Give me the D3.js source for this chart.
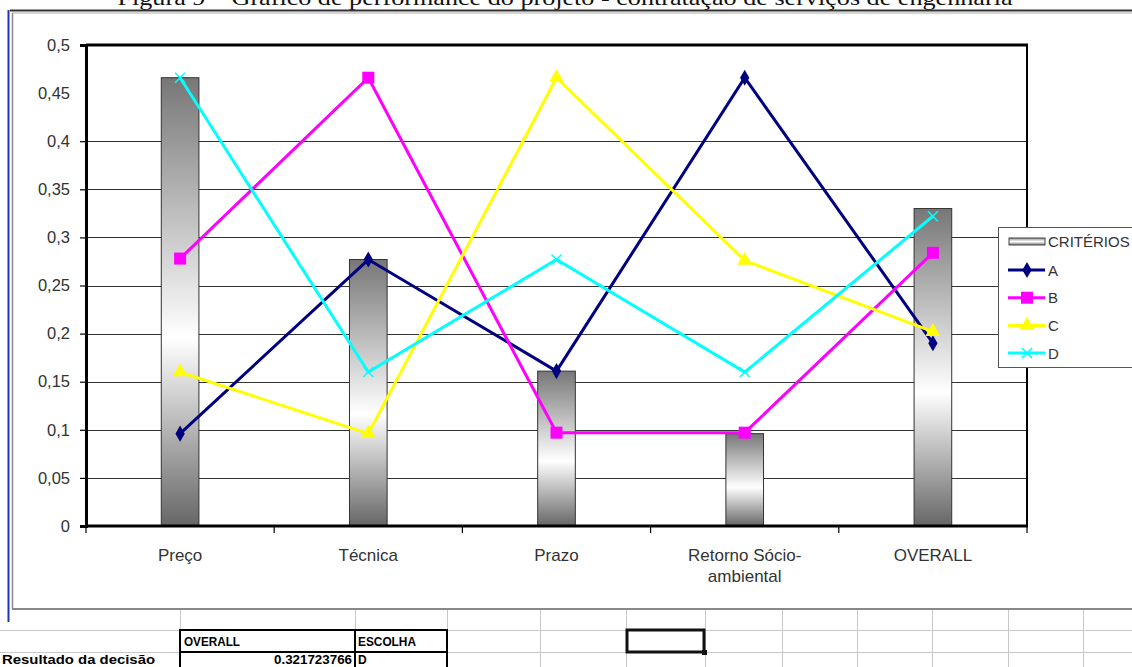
<!DOCTYPE html>
<html><head><meta charset="utf-8">
<script src="https://cdn.jsdelivr.net/npm/d3@7"></script>
<style>html,body{margin:0;padding:0;background:#fff;overflow:hidden}</style>
</head><body>
<script>
const categories = ["Preço","Técnica","Prazo","Retorno Sócio-ambiental","OVERALL"];
const criterios = [0.466, 0.277, 0.161, 0.096, 0.330];
const seriesA = [0.096, 0.277, 0.161, 0.466, 0.190];
const seriesB = [0.278, 0.466, 0.097, 0.097, 0.284];
const seriesC = [0.160, 0.096, 0.466, 0.276, 0.202];
const seriesD = [0.466, 0.160, 0.277, 0.160, 0.322];
const seriesNames = ["A","B","C","D"];
const yTicks = [0,0.05,0.1,0.15,0.2,0.25,0.3,0.35,0.4,0.45,0.5];
const gridTicks = [0.05,0.1,0.15,0.2,0.25,0.3,0.35,0.4];
const legendTitle = "CRITÉRIOS";
const caption = "Figura 9 – Gráfico de performance do projeto - contratação de serviços de engenharia";
const tableHeaders = ["OVERALL","ESCOLHA"];
const tableRowLabel = "Resultado da decisão";
const tableOverall = "0.321723766";
const tableChoice = "D";

const W = 1132, H = 667;
const svg = d3.select("body").append("svg").attr("width",W).attr("height",H)
  .style("font-family","'Liberation Sans', Arial, sans-serif");

const defs = svg.append("defs");
const grad = defs.append("linearGradient").attr("id","barGrad").attr("x1",0).attr("y1",0).attr("x2",0).attr("y2",1);
grad.append("stop").attr("offset","0%").attr("stop-color","#777");
grad.append("stop").attr("offset","58%").attr("stop-color","#fff");
grad.append("stop").attr("offset","100%").attr("stop-color","#666");
const lgGrad = defs.append("linearGradient").attr("id","lgGrad").attr("x1",0).attr("y1",0).attr("x2",0).attr("y2",1);
lgGrad.append("stop").attr("offset","0%").attr("stop-color","#888");
lgGrad.append("stop").attr("offset","50%").attr("stop-color","#fff");
lgGrad.append("stop").attr("offset","100%").attr("stop-color","#777");

// caption (clipped at top, as in the reference)
svg.append("text").attr("x",565).attr("y",5).attr("text-anchor","middle")
  .attr("font-family","'Liberation Serif', 'Times New Roman', serif").attr("font-size",21)
  .attr("textLength",895).attr("lengthAdjust","spacingAndGlyphs")
  .attr("fill","#111").text(caption);

// page / frame lines
svg.append("line").attr("x1",10).attr("x2",W).attr("y1",10.5).attr("y2",10.5).attr("stroke","#333").attr("stroke-width",2);
svg.append("line").attr("x1",12).attr("x2",W).attr("y1",13).attr("y2",13).attr("stroke","#aaa").attr("stroke-width",1);
svg.append("line").attr("x1",8.5).attr("x2",8.5).attr("y1",10).attr("y2",622).attr("stroke","#2233bb").attr("stroke-width",2);
svg.append("line").attr("x1",12.5).attr("x2",12.5).attr("y1",13).attr("y2",609).attr("stroke","#888").attr("stroke-width",1.5);
svg.append("line").attr("x1",12).attr("x2",W).attr("y1",609).attr("y2",609).attr("stroke","#888").attr("stroke-width",2);

// spreadsheet grid
const colLines = [180,355,447,540,626,705,782,857,932,1008,1083];
svg.append("g").selectAll("line").data(colLines).join("line")
  .attr("x1",d=>d+0.5).attr("x2",d=>d+0.5).attr("y1",610).attr("y2",H).attr("stroke","#c8c8c8");
svg.append("g").selectAll("line").data([630,652]).join("line")
  .attr("x1",0).attr("x2",W).attr("y1",d=>d+0.5).attr("y2",d=>d+0.5).attr("stroke","#c8c8c8");
// table borders
const tb = svg.append("g").attr("stroke","#000").attr("stroke-width",2).attr("fill","none");
tb.append("rect").attr("x",180).attr("y",630).attr("width",267).attr("height",45);
tb.append("line").attr("x1",355).attr("x2",355).attr("y1",630).attr("y2",H);
tb.append("line").attr("x1",180).attr("x2",447).attr("y1",652).attr("y2",652);
// selected cell
svg.append("rect").attr("x",627).attr("y",630).attr("width",77).attr("height",22).attr("fill","none").attr("stroke","#111").attr("stroke-width",3);
svg.append("rect").attr("x",702).attr("y",650).attr("width",5).attr("height",5).attr("fill","#111");
const tt = svg.append("g").attr("font-size",12).attr("font-weight","bold").attr("fill","#000");
tt.append("text").attr("x",184).attr("y",646).attr("textLength",56).attr("lengthAdjust","spacingAndGlyphs").text(tableHeaders[0]);
tt.append("text").attr("x",358).attr("y",646).attr("textLength",58).attr("lengthAdjust","spacingAndGlyphs").text(tableHeaders[1]);
tt.append("text").attr("x",2).attr("y",664).attr("textLength",153).attr("lengthAdjust","spacingAndGlyphs").text(tableRowLabel);
tt.append("text").attr("x",352).attr("y",664).attr("text-anchor","end").attr("textLength",78).attr("lengthAdjust","spacingAndGlyphs").text(tableOverall);
tt.append("text").attr("x",358).attr("y",664).text(tableChoice);

// scales
const x0 = 86, x1 = 1027, yTop = 45, yBot = 526;
const x = d3.scalePoint().domain(categories).range([x0,x1]).padding(0.5);
const xb = d3.scaleBand().domain(categories).range([x0,x1]).paddingInner(0.8).paddingOuter(0.4);
const xEdges = d3.scaleBand().domain(categories).range([x0,x1]).padding(0);
const y = d3.scaleLinear().domain([0,0.5]).range([yBot,yTop]);

// gridlines
svg.append("g").selectAll("line").data(gridTicks).join("line")
  .attr("x1",x0).attr("x2",x1).attr("y1",d=>Math.round(y(d))+0.5).attr("y2",d=>Math.round(y(d))+0.5)
  .attr("stroke","#333").attr("stroke-width",1.2);

// bars
svg.append("g").selectAll("rect").data(categories).join("rect")
  .attr("x",d=>xb(d)).attr("width",xb.bandwidth())
  .attr("y",(d,i)=>y(criterios[i])).attr("height",(d,i)=>yBot-y(criterios[i]))
  .attr("fill","url(#barGrad)").attr("stroke","#333").attr("stroke-width",1);

// plot border
svg.append("line").attr("x1",x0).attr("x2",x1+1).attr("y1",yTop).attr("y2",yTop).attr("stroke","#000").attr("stroke-width",3);
svg.append("line").attr("x1",x1).attr("x2",x1).attr("y1",yTop).attr("y2",yBot).attr("stroke","#000").attr("stroke-width",2);

// y axis
const yAxis = d3.axisLeft(y).tickValues(yTicks).tickSize(6).tickPadding(10)
  .tickFormat(d=>String(d).replace(".",","));
const gy = svg.append("g").attr("transform",`translate(${x0},0)`).call(yAxis);
gy.select(".domain").attr("stroke","#000").attr("stroke-width",3);
gy.selectAll(".tick line").attr("stroke","#000").attr("stroke-width",1.2);
gy.selectAll(".tick").filter(d=>d===0.45).select("line").remove();
gy.selectAll("text").attr("font-size",16.5).attr("fill","#333").attr("font-family","'Liberation Sans', Arial, sans-serif");

// x axis
const gx = svg.append("g").attr("transform",`translate(0,${yBot})`);
gx.append("line").attr("x1",x0-1).attr("x2",x1+1).attr("y1",0).attr("y2",0).attr("stroke","#000").attr("stroke-width",3);
gx.selectAll("line.tk").data(categories.concat(["__end"])).join("line").attr("class","tk")
  .attr("x1",(d,i)=> i<categories.length ? xEdges(d) : x1).attr("x2",(d,i)=> i<categories.length ? xEdges(d) : x1)
  .attr("y1",0).attr("y2",7).attr("stroke","#000").attr("stroke-width",1.2);
const lbl = gx.selectAll("text.cat").data(categories).join("text").attr("class","cat")
  .attr("x",d=>x(d)).attr("text-anchor","middle").attr("font-size",17).attr("fill","#333");
lbl.each(function(d){
  const t = d3.select(this);
  const parts = d.indexOf("Sócio-")>=0 ? [d.slice(0, d.indexOf("Sócio-")+6), d.slice(d.indexOf("Sócio-")+6)] : [d];
  parts.forEach((p,k)=> t.append("tspan").attr("x",x(d)).attr("y",35+k*21).text(p));
});

// series
const series = [
  {name:"A", values:seriesA, color:"#000080", sym:"diamond"},
  {name:"B", values:seriesB, color:"#ff00ff", sym:"square"},
  {name:"C", values:seriesC, color:"#ffff00", sym:"triangle"},
  {name:"D", values:seriesD, color:"#00ffff", sym:"x"}
];
function marker(g, sym, color, cx, cy){
  if(sym==="diamond"){
    g.append("path").attr("d",d3.symbol(d3.symbolDiamond,75)()).attr("transform",`translate(${cx},${cy})`).attr("fill",color);
  } else if(sym==="square"){
    g.append("rect").attr("x",cx-6).attr("y",cy-6).attr("width",12).attr("height",12).attr("fill",color);
  } else if(sym==="triangle"){
    g.append("path").attr("d",d3.symbol(d3.symbolTriangle,95)()).attr("transform",`translate(${cx},${cy})`).attr("fill",color);
  } else {
    g.append("path").attr("d",`M${cx-5},${cy-5}L${cx+5},${cy+5}M${cx-5},${cy+5}L${cx+5},${cy-5}`).attr("stroke",color).attr("stroke-width",1.5);
  }
}
const line = d3.line().x((d,i)=>x(categories[i])).y(d=>y(d));
series.forEach(s=>{
  const g = svg.append("g");
  g.append("path").datum(s.values).attr("d",line).attr("fill","none").attr("stroke",s.color).attr("stroke-width",3);
  s.values.forEach((v,i)=>marker(g, s.sym, s.color, x(categories[i]), y(v)));
});

// legend
const lg = svg.append("g");
lg.append("rect").attr("x",998.5).attr("y",227.5).attr("width",150).attr("height",140).attr("fill","#fff").attr("stroke","#555").attr("stroke-width",1);
lg.append("rect").attr("x",1009).attr("y",238).attr("width",36).attr("height",7).attr("fill","url(#lgGrad)").attr("stroke","#444");
lg.append("text").attr("x",1048).attr("y",247).attr("font-size",15).attr("fill","#333").text(legendTitle);
series.forEach((s,i)=>{
  const cy = 270 + i*27.7;
  lg.append("line").attr("x1",1008).attr("x2",1045).attr("y1",cy).attr("y2",cy).attr("stroke",s.color).attr("stroke-width",3);
  marker(lg, s.sym, s.color, 1027, cy);
  lg.append("text").attr("x",1048).attr("y",cy+5.5).attr("font-size",15).attr("fill","#333").text(s.name);
});
</script>
</body></html>
